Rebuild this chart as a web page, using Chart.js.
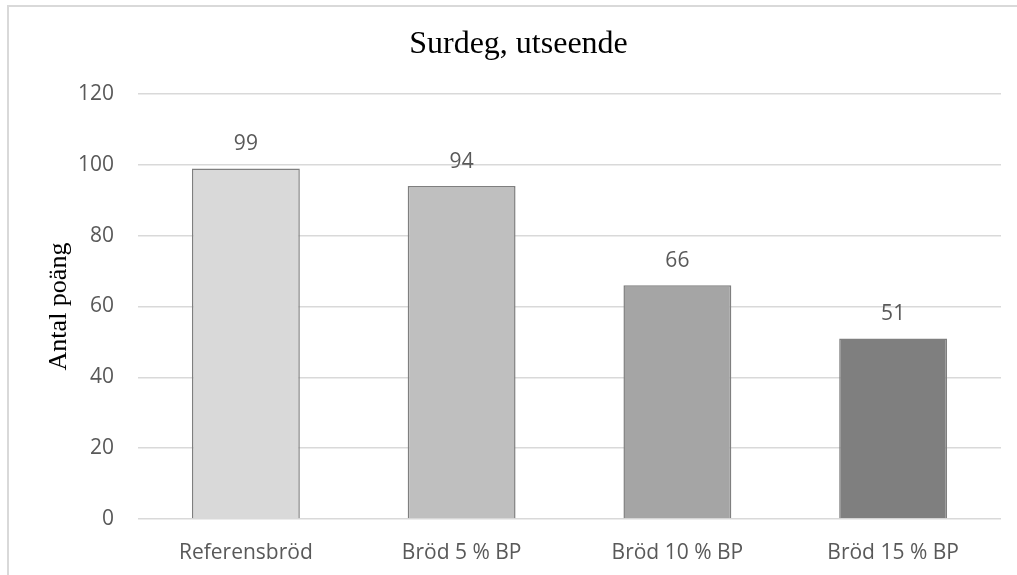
<!DOCTYPE html>
<html lang="sv">
<head>
<meta charset="utf-8">
<title>Surdeg, utseende</title>
<script src="https://cdn.jsdelivr.net/npm/chart.js@4.4.1/dist/chart.umd.min.js"></script>
<style>
  html, body { margin: 0; padding: 0; background: #ffffff; }
  #wrap { position: relative; width: 1017px; height: 575px; }
  canvas { display: block; }
</style>
</head>
<body>
<div id="wrap"><canvas id="chart" width="1017" height="575"></canvas></div>
<script>
// Bread samples and their appearance scores
const categories = ['Referensbröd', 'Bröd 5 % BP', 'Bröd 10 % BP', 'Bröd 15 % BP'];
const scores = [99, 94, 66, 51];
const yTicks = [0, 20, 40, 60, 80, 100, 120];

const barFills = ['#d9d9d9', '#bfbfbf', '#a5a5a5', '#7f7f7f'];
const labelFont = '"Open Sans", "DejaVu Sans", sans-serif';
const serifFont = '"Liberation Serif", "DejaVu Serif", serif';
const textGrey = '#595959';

// Light frame around the chart
const framePlugin = {
  id: 'frame',
  beforeDraw(chart) {
    const ctx = chart.ctx;
    ctx.save();
    ctx.fillStyle = '#ffffff';
    ctx.fillRect(0, 0, chart.width, chart.height);
    ctx.strokeStyle = '#d9d9d9';
    ctx.lineWidth = 2;
    ctx.beginPath();
    ctx.moveTo(8, chart.height);
    ctx.lineTo(8, 6);
    ctx.lineTo(chart.width, 6);
    ctx.stroke();
    ctx.restore();
  }
};

// Value labels above each bar
const valueLabels = {
  id: 'valueLabels',
  afterDatasetsDraw(chart) {
    const ctx = chart.ctx;
    const meta = chart.getDatasetMeta(0);
    ctx.save();
    ctx.font = '21px ' + labelFont;
    ctx.fillStyle = textGrey;
    ctx.textAlign = 'center';
    ctx.textBaseline = 'middle';
    meta.data.forEach((bar, i) => {
      const v = chart.data.datasets[0].data[i];
      ctx.fillText(String(v), bar.x, bar.y - 24);
    });
    ctx.restore();
  }
};

new Chart(document.getElementById('chart'), {
  type: 'bar',
  data: {
    labels: categories,
    datasets: [{
      data: scores,
      backgroundColor: barFills,
      borderColor: '#7f7f7f',
      borderWidth: 1.5,
      barPercentage: 0.5,
      categoryPercentage: 1.0
    }]
  },
  options: {
    responsive: false,
    animation: false,
    devicePixelRatio: 1,
    layout: { padding: { left: 36, right: 16, top: 0, bottom: 0 } },
    plugins: {
      legend: { display: false },
      tooltip: { enabled: false },
      title: {
        display: true,
        text: 'Surdeg, utseende',
        color: '#000000',
        font: { family: serifFont, size: 32, weight: 'normal' },
        padding: { top: 25.5, bottom: 30.1 }
      }
    },
    scales: {
      x: {
        grid: { display: false },
        border: { display: false },
        ticks: {
          color: textGrey,
          font: { family: labelFont, size: 21 },
          padding: 13,
          maxRotation: 0
        },
        afterFit(scale) { scale.height = 56; }
      },
      y: {
        min: 0,
        max: 120,
        afterBuildTicks(scale) { scale.ticks = yTicks.map(v => ({ value: v })); },
        grid: { color: '#d9d9d9', lineWidth: 1.5, drawTicks: false },
        border: { display: false },
        ticks: {
          color: textGrey,
          font: { family: labelFont, size: 21 },
          padding: 24
        },
        title: {
          display: true,
          text: 'Antal poäng',
          color: '#000000',
          font: { family: serifFont, size: 26, weight: 'normal' },
          padding: { top: 7.4, bottom: 0 }
        },
        afterFit(scale) { scale.width = 102; }
      }
    }
  },
  plugins: [framePlugin, valueLabels]
});
</script>
</body>
</html>
